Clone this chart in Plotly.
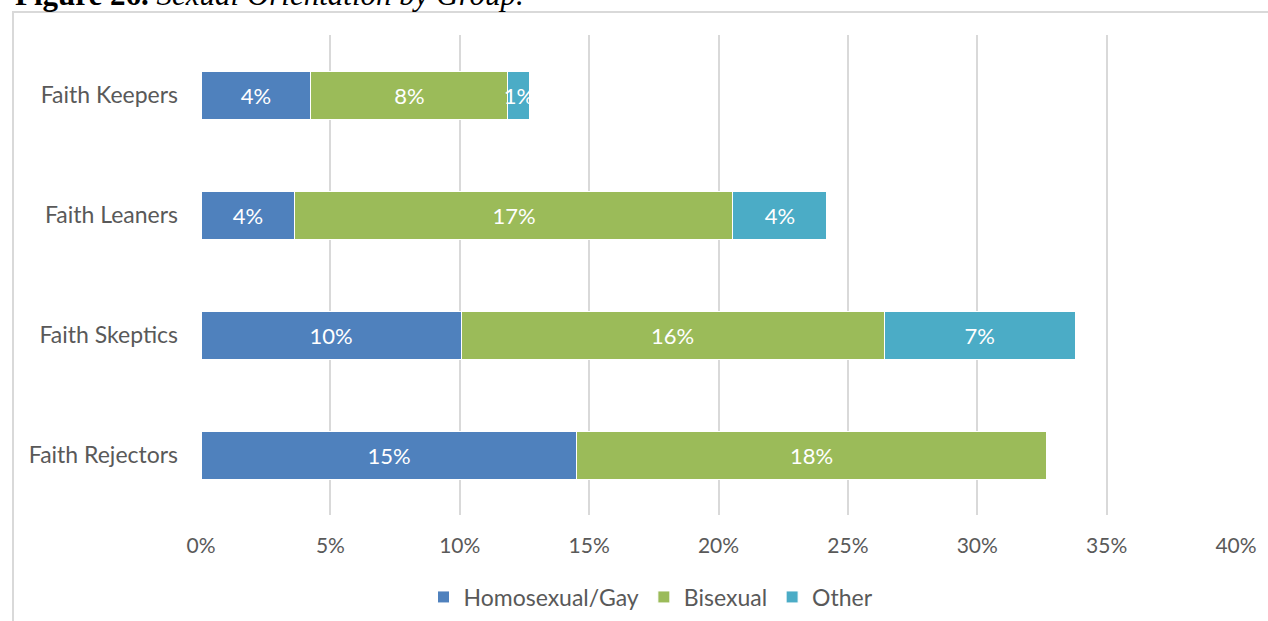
import plotly.graph_objects as go

# Share of each group by sexual orientation (fractions of the group)
groups = ["Faith Keepers", "Faith Leaners", "Faith Skeptics", "Faith Rejectors"]
homosexual = [0.0425, 0.0363, 0.1005, 0.1453]
bisexual = [0.0761, 0.1693, 0.1635, 0.1813]
other = [0.0085, 0.0363, 0.0738, 0.0]

series_names = ["Homosexual/Gay", "Bisexual", "Other"]
series_colors = ["#4f81bd", "#9bbb59", "#4bacc6"]
x_ticks = [0, 0.05, 0.10, 0.15, 0.20, 0.25, 0.30, 0.35, 0.40]
x_tick_text = ["0%", "5%", "10%", "15%", "20%", "25%", "30%", "35%", "40%"]

FONT = "Lato"
W, H = 1268, 621
L, R, T, B = 201, 32, 35, 106
plot_w = W - L - R
plot_h = H - T - B

fig = go.Figure()
for name, vals, color in zip(series_names, [homosexual, bisexual, other], series_colors):
    labels = [f"{v:.0%}" if v > 0 else "" for v in vals]
    fig.add_trace(go.Bar(
        name=name,
        y=groups,
        x=vals,
        orientation="h",
        marker=dict(color=color, line=dict(color="white", width=1)),
        text=labels,
        textposition="inside",
        insidetextanchor="middle",
        textangle=0,
        constraintext="none",
        textfont=dict(family=FONT, size=22, color="white"),
        cliponaxis=False,
        hoverinfo="skip",
    ))


def px_x(px):
    return (px - L) / plot_w


def px_y(py):
    return 1 - (py - T) / plot_h


fig.update_layout(
    width=W,
    height=H,
    barmode="stack",
    bargap=0.6,
    paper_bgcolor="white",
    plot_bgcolor="white",
    margin=dict(l=L, r=R, t=T, b=B, pad=0, autoexpand=False),
    font=dict(family=FONT, size=21, color="#595959"),
    xaxis=dict(
        range=[0, 0.40],
        tickvals=x_ticks,
        ticktext=x_tick_text,
        showgrid=True,
        gridcolor="#d9d9d9",
        gridwidth=2,
        zeroline=False,
        showline=False,
        ticks="",
        ticklabelstandoff=16,
        tickfont=dict(family=FONT, size=21, color="#595959"),
    ),
    yaxis=dict(
        categoryorder="array",
        categoryarray=groups,
        autorange="reversed",
        showgrid=False,
        zeroline=False,
        showline=False,
        ticks="",
        ticklabelstandoff=22,
        tickfont=dict(family=FONT, size=23, color="#595959"),
    ),
    legend=dict(
        orientation="h",
        traceorder="normal",
        xref="container",
        yref="container",
        x=651 / W,
        xanchor="center",
        y=1 - 597 / H,
        yanchor="middle",
        font=dict(family=FONT, size=23, color="#595959"),
        bgcolor="rgba(0,0,0,0)",
        itemclick=False,
        itemdoubleclick=False,
        itemwidth=30,
    ),
    showlegend=True,
)

# Chart frame
fig.add_shape(
    type="rect",
    xref="paper", yref="paper",
    x0=px_x(13), x1=px_x(1400),
    y0=px_y(800), y1=px_y(12),
    line=dict(color="#d9d9d9", width=2),
    fillcolor="rgba(0,0,0,0)",
    layer="below",
)

# Figure caption
fig.add_annotation(
    xref="paper", yref="paper",
    x=px_x(13), y=px_y(6),
    xanchor="left", yanchor="bottom",
    text="<b>Figure 26.</b> <i>Sexual Orientation by Group.</i>",
    showarrow=False,
    font=dict(family="Liberation Serif", size=31, color="black"),
    yshift=-8,
)

fig.write_html("out.html")
